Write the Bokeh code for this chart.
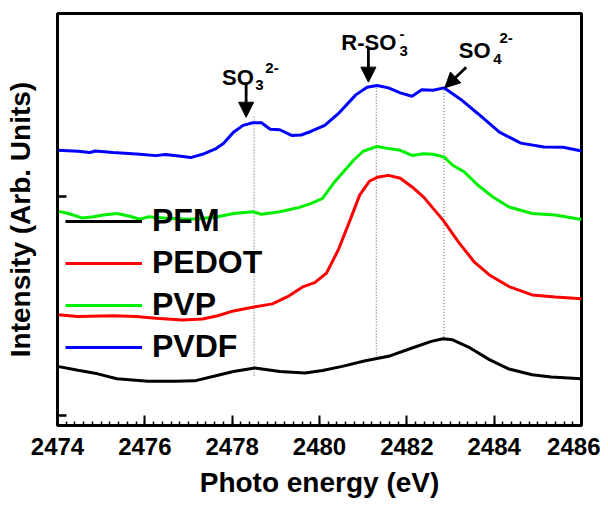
from bokeh.plotting import figure
from bokeh.models import (Range1d, FixedTicker, SingleIntervalTicker, Legend, LegendItem,
                          Label, Arrow, NormalHead)
from bokeh.embed import file_html
from bokeh.resources import INLINE

# ---------------- data ----------------
e_pfm = [2474.0, 2474.47, 2474.92, 2475.36, 2476.07, 2476.69, 2477.14, 2477.58, 2478.03, 2478.52,
         2479.09, 2479.67, 2480.07, 2480.52, 2481.05, 2481.58, 2482.12, 2482.56, 2482.83, 2483.05,
         2483.45, 2483.89, 2484.34, 2484.87, 2485.31, 2486.0]
i_pfm = [0.224, 0.206, 0.190, 0.168, 0.156, 0.156, 0.158, 0.179, 0.201, 0.217,
         0.201, 0.194, 0.205, 0.224, 0.250, 0.270, 0.308, 0.338, 0.350, 0.345,
         0.308, 0.255, 0.212, 0.186, 0.176, 0.168]

e_pedot = [2474.0, 2474.47, 2475.27, 2475.80, 2476.25, 2476.87, 2477.32, 2477.67, 2478.03, 2478.47,
           2478.92, 2479.27, 2479.63, 2479.89, 2480.16, 2480.43, 2480.70, 2480.92, 2481.14, 2481.32,
           2481.58, 2481.85, 2482.12, 2482.38, 2482.83, 2483.18, 2483.54, 2483.89, 2484.34, 2484.87,
           2485.40, 2486.0]
i_pedot = [0.459, 0.451, 0.455, 0.451, 0.444, 0.436, 0.440, 0.455, 0.477, 0.494,
           0.509, 0.542, 0.588, 0.606, 0.649, 0.755, 0.891, 1.005, 1.068, 1.086,
           1.095, 1.082, 1.042, 0.997, 0.891, 0.792, 0.701, 0.641, 0.588, 0.550,
           0.540, 0.532]

e_pvp = [2474.0, 2474.25, 2474.56, 2474.83, 2475.05, 2475.36, 2475.63, 2475.89, 2476.07, 2476.5,
         2477.0, 2477.3, 2477.67, 2478.03, 2478.47, 2478.67, 2479.09, 2479.54, 2479.80, 2480.07,
         2480.34, 2480.78, 2481.0, 2481.32, 2481.58, 2481.85, 2482.12, 2482.38, 2482.60, 2482.85,
         2483.05, 2483.32, 2483.63, 2483.98, 2484.34, 2484.87, 2485.40, 2486.0]
i_pvp = [0.932, 0.921, 0.901, 0.906, 0.914, 0.921, 0.910, 0.895, 0.906, 0.900,
         0.895, 0.898, 0.906, 0.921, 0.929, 0.918, 0.929, 0.949, 0.966, 0.990,
         1.064, 1.164, 1.205, 1.227, 1.217, 1.209, 1.186, 1.194, 1.191, 1.179,
         1.141, 1.110, 1.050, 0.995, 0.951, 0.921, 0.914, 0.894]

e_pvdf = [2474.0, 2474.47, 2474.74, 2474.87, 2475.27, 2475.63, 2475.89, 2476.25, 2476.47, 2476.78,
          2477.05, 2477.32, 2477.63, 2477.80, 2478.03, 2478.25, 2478.47, 2478.67, 2478.87, 2479.09,
          2479.36, 2479.58, 2479.80, 2480.12, 2480.43, 2480.83, 2481.09, 2481.32, 2481.58, 2481.85,
          2482.12, 2482.34, 2482.60, 2482.85, 2483.27, 2483.63, 2484.12, 2484.61, 2485.14, 2485.58,
          2486.0]
i_pvdf = [1.209, 1.205, 1.199, 1.206, 1.199, 1.195, 1.191, 1.185, 1.190, 1.183,
          1.176, 1.191, 1.217, 1.240, 1.292, 1.323, 1.335, 1.335, 1.305, 1.303,
          1.277, 1.279, 1.295, 1.323, 1.376, 1.462, 1.497, 1.505, 1.494, 1.471,
          1.456, 1.485, 1.483, 1.494, 1.436, 1.376, 1.292, 1.242, 1.224, 1.223,
          1.206]

series_names = ["PFM", "PEDOT", "PVP", "PVDF"]
series_colors = ["#000000", "#ff0000", "#00ee00", "#0000ff"]

# peak markers (dotted guide lines)
peak_energy = [2478.5, 2481.3, 2482.85]
guide_top = [1.368, 1.518, 1.495]
guide_bottom = [0.182, 0.259, 0.345]

# arrows
arrow_x0 = [2478.32, 2481.12, 2483.36]
arrow_y0 = [1.518, 1.673, 1.588]
arrow_x1 = [2478.32, 2481.12, 2482.87]
arrow_y1 = [1.360, 1.520, 1.494]

# annotation texts: main text, subscript, superscript
main_txt = ["SO", "R-SO", "SO"]
main_x = [2477.77, 2480.50, 2483.19]
main_y = [1.542, 1.701, 1.664]
sub_txt = ["3", "3", "4"]
sub_x = [2478.53, 2481.83, 2483.98]
sub_y = [1.505, 1.664, 1.627]
sup_txt = ["2-", "-", "2-"]
sup_x = [2478.76, 2481.83, 2484.12]
sup_y = [1.586, 1.740, 1.723]

x_ticks_interval = 2
y_ticks = [0, 1]

FONT = "Liberation Sans"

# ---------------- figure ----------------
p = figure(width=600, height=500, output_backend="svg", toolbar_location=None,
           x_range=Range1d(2474, 2486), y_range=Range1d(-0.0455, 1.833),
           min_border_left=57, min_border_right=19, min_border_top=13, min_border_bottom=74,
           background_fill_color="white", border_fill_color="white")
p.xgrid.visible = False
p.ygrid.visible = False
p.outline_line_color = "black"
p.outline_line_width = 3

# guide lines
p.segment(x0=peak_energy, y0=guide_bottom, x1=peak_energy, y1=guide_top,
          line_color="#555555", line_width=1, line_dash="1 2")

renderers = []
for e, i, c in zip([e_pfm, e_pedot, e_pvp, e_pvdf], [i_pfm, i_pedot, i_pvp, i_pvdf], series_colors):
    r = p.line(e, i, line_color=c, line_width=3)
    renderers.append(r)

legend = Legend(items=[LegendItem(label=n, renderers=[r]) for n, r in zip(series_names, renderers)],
                location=(8, 60), orientation="vertical",
                background_fill_alpha=0, border_line_alpha=0,
                glyph_width=77, glyph_height=36, label_height=36, spacing=5,
                padding=0, margin=0, label_standoff=10,
                label_text_font=FONT, label_text_font_style="bold", label_text_font_size="32px",
                label_text_color="black")
p.add_layout(legend)

for xs, ys, xe, ye in zip(arrow_x0, arrow_y0, arrow_x1, arrow_y1):
    p.add_layout(Arrow(end=NormalHead(size=15, fill_color="black", line_color="black", line_width=1),
                       x_start=xs, y_start=ys, x_end=xe, y_end=ye,
                       line_color="black", line_width=2.8))

for t, x, y in zip(main_txt, main_x, main_y):
    p.add_layout(Label(x=x, y=y, text=t, text_font=FONT, text_font_style="bold",
                       text_font_size="22px", text_baseline="alphabetic", text_color="black"))
for t, x, y in zip(sub_txt, sub_x, sub_y):
    p.add_layout(Label(x=x, y=y, text=t, text_font=FONT, text_font_style="bold",
                       text_font_size="15px", text_baseline="alphabetic", text_color="black"))
for t, x, y in zip(sup_txt, sup_x, sup_y):
    p.add_layout(Label(x=x, y=y, text=t, text_font=FONT, text_font_style="bold",
                       text_font_size="15px", text_baseline="alphabetic", text_color="black"))

# axes
xa = p.xaxis[0]
xa.ticker = SingleIntervalTicker(interval=x_ticks_interval, num_minor_ticks=10)
xa.axis_label = "Photo energy (eV)"
xa.axis_label_text_font = FONT
xa.axis_label_text_font_style = "bold"
xa.axis_label_text_font_size = "28px"
xa.axis_label_text_color = "black"
xa.axis_label_standoff = 9
xa.major_label_text_font = FONT
xa.major_label_text_font_style = "bold"
xa.major_label_text_font_size = "24px"
xa.major_label_text_color = "black"
xa.major_label_standoff = 12
xa.axis_line_width = 3
xa.major_tick_in = 10
xa.major_tick_out = 0
xa.minor_tick_in = 4
xa.minor_tick_out = 0
xa.major_tick_line_width = 2
xa.minor_tick_line_width = 1.5

ya = p.yaxis[0]
ya.ticker = FixedTicker(ticks=y_ticks, minor_ticks=[])
ya.axis_label = "Intensity (Arb. Units)"
ya.axis_label_text_font = FONT
ya.axis_label_text_font_style = "bold"
ya.axis_label_text_font_size = "28px"
ya.axis_label_text_color = "black"
ya.axis_label_standoff = 22
ya.major_label_overrides = {0: "", 1: ""}
ya.major_label_text_font_size = "1px"
ya.major_label_standoff = 0
ya.axis_line_width = 3
ya.major_tick_in = 9
ya.major_tick_out = 0
ya.major_tick_line_width = 2.5

open("out.html", "w").write(file_html(p, INLINE))
